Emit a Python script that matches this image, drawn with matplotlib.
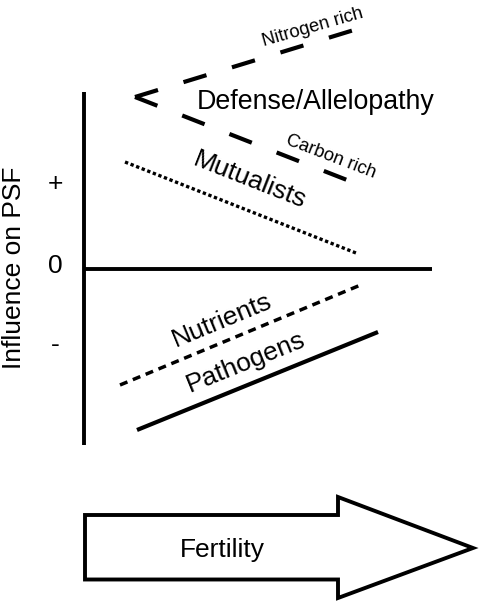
import matplotlib
matplotlib.use("Agg")
import matplotlib.pyplot as plt
from matplotlib.patches import Polygon

plt.rcParams['font.family'] = ['Liberation Sans', 'DejaVu Sans']
plt.rcParams['lines.scale_dashes'] = False

# diagram coordinates (image pixels, y grows downward)
axis_v_x = [83.5, 83.5]
axis_v_y = [92, 445]
axis_h_x = [83, 432]
axis_h_y = [269, 269]

pathogens_x = [137, 378]
pathogens_y = [430, 332]
nutrients_x = [120, 363]
nutrients_y = [385, 284]
mutualists_x = [125, 356]
mutualists_y = [162, 253]
nitrogen_x = [135, 354]
nitrogen_y = [97, 30]
carbon_x = [135, 347]
carbon_y = [97, 180]

arrow_x = [85, 338, 338, 473, 338, 338, 85]
arrow_y = [515, 515, 497, 548, 598, 579.5, 579.5]

fig = plt.figure(figsize=(4.8, 6.03), dpi=100)
ax = fig.add_axes([0, 0, 1, 1])
ax.set_xlim(0, 480)
ax.set_ylim(603, 0)
ax.axis('off')

ax.plot(axis_v_x, axis_v_y, color='black', lw=2.8, solid_capstyle='butt')
ax.plot(axis_h_x, axis_h_y, color='black', lw=2.8, solid_capstyle='butt')

ax.plot(pathogens_x, pathogens_y, color='black', lw=3, solid_capstyle='butt')
ax.plot(nutrients_x, nutrients_y, color='black', lw=2.5, dashes=(5.8, 4.2))
ax.plot(mutualists_x, mutualists_y, color='black', lw=2.4, dashes=(2.4, 1.9))
ax.plot(nitrogen_x, nitrogen_y, color='black', lw=3, dashes=(17.3, 19.2))
ax.plot(carbon_x, carbon_y, color='black', lw=3, dashes=(17.3, 19.2))

ax.add_patch(Polygon(list(zip(arrow_x, arrow_y)), closed=True, facecolor='white',
                     edgecolor='black', lw=2.8, joinstyle='miter'))

fs = 19
ax.text(14, 268, 'Influence on PSF', fontsize=fs, rotation=90, ha='center', va='center')
ax.text(55.5, 191, '+', fontsize=fs, ha='center', va='baseline')
ax.text(55.5, 273, '0', fontsize=fs, ha='center', va='baseline')
ax.text(55.5, 352, '-', fontsize=fs, ha='center', va='baseline')

ax.text(197, 109, 'Defense/Allelopathy', fontsize=19.3, ha='left', va='baseline')
ax.text(313, 27, 'Nitrogen rich', fontsize=13.2, rotation=16, ha='center', va='center',
        rotation_mode='anchor')
ax.text(331, 157, 'Carbon rich', fontsize=13.2, rotation=-21, ha='center', va='center',
        rotation_mode='anchor')
ax.text(250, 180, 'Mutualists', fontsize=fs, rotation=-21.5, ha='center', va='center',
        rotation_mode='anchor')
ax.text(222, 320, 'Nutrients', fontsize=fs, rotation=22.5, ha='center', va='center',
        rotation_mode='anchor')
ax.text(246, 362, 'Pathogens', fontsize=fs, rotation=22, ha='center', va='center',
        rotation_mode='anchor')
ax.text(222.5, 557, 'Fertility', fontsize=fs, ha='center', va='baseline')

fig.savefig('out.png', dpi=100)
